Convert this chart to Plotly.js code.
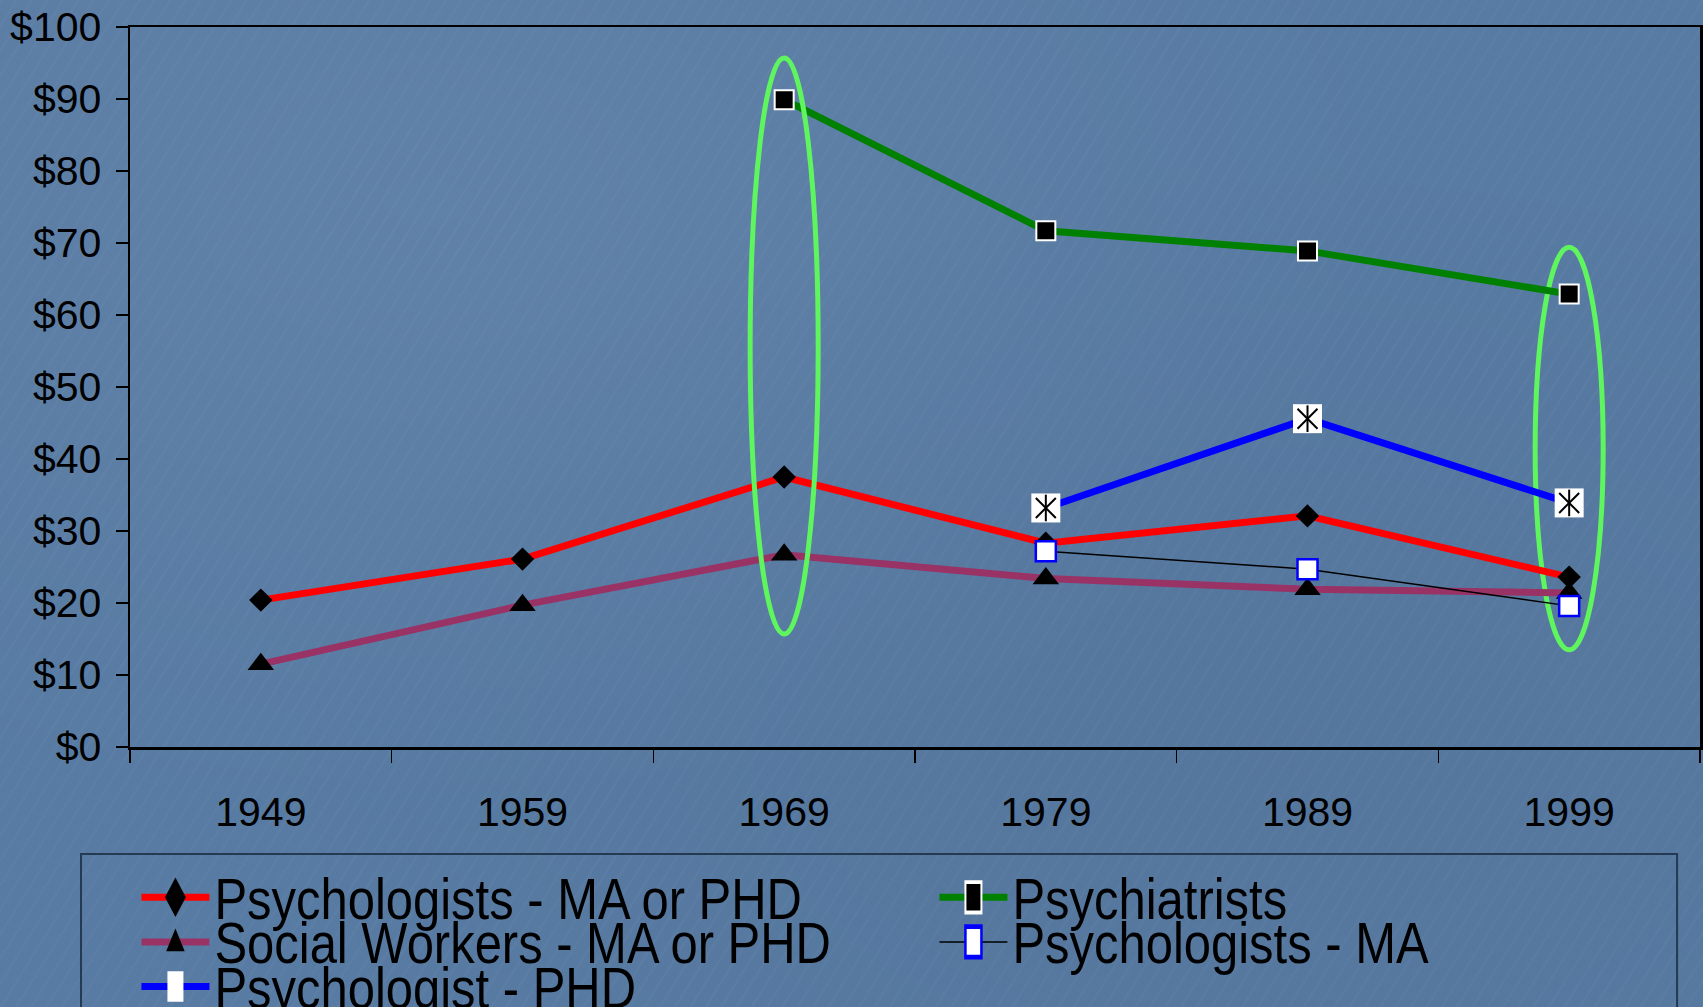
<!DOCTYPE html>
<html>
<head>
<meta charset="utf-8">
<script src="https://cdn.plot.ly/plotly-3.0.1.min.js"></script>
<style>
  html, body { margin: 0; padding: 0; }
  body {
    width: 1703px; height: 1007px; overflow: hidden;
    background:
      repeating-linear-gradient(122deg, rgba(255,255,255,0.025) 0px, rgba(255,255,255,0.025) 2px, rgba(255,255,255,0) 3px, rgba(255,255,255,0) 13px),
      radial-gradient(ellipse at 25% 20%, rgba(255,255,255,0.05), rgba(255,255,255,0) 55%),
      radial-gradient(ellipse at 75% 75%, rgba(0,0,0,0.04), rgba(0,0,0,0) 60%),
      #587ba3;
  }
  #chart { width: 1703px; height: 1007px; }
  .legend .legendtext {
    transform-box: fill-box;
    transform-origin: 0% 50%;
    transform: scale(1.53, 1.8);
  }
  .legend g.legendpoints {
    transform-box: fill-box;
    transform-origin: 50% 50%;
    transform: scale(1, 1.9);
  }
</style>
</head>
<body>
<div id="chart"></div>
<script>
// ---- data ----
const years = ['1949', '1959', '1969', '1979', '1989', '1999'];
const psychologistsMAorPHD = [20.4, 26.1, 37.5, 28.3, 32.1, 23.6];
const psychiatrists = [null, null, 89.9, 71.7, 68.9, 62.9];
const socialWorkersMAorPHD = [11.5, 19.7, 26.7, 23.4, 21.9, 21.4];
const psychologistsMA = [null, null, null, 27.2, 24.7, 19.6];
const psychologistPHD = [null, null, null, 33.2, 45.6, 33.9];
const seriesNames = ['Psychologists - MA or PHD', 'Psychiatrists', 'Social Workers - MA or PHD', 'Psychologists - MA', 'Psychologist - PHD'];
// highlighted years (category index) with vertical extent of the green ellipses
const highlightIndex = [2, 5];
const highlightLow = [15.7, 13.5];
const highlightHigh = [95.7, 69.4];

const FONT = 'Liberation Sans, Arial, Helvetica, sans-serif';

const traces = [
  {
    x: years, y: psychologistsMAorPHD, name: seriesNames[0], type: 'scatter', mode: 'lines+markers',
    line: {color: '#ff0000', width: 7},
    marker: {symbol: 'diamond', size: 18, color: '#000000'}
  },
  {
    x: years, y: psychiatrists, name: seriesNames[1], type: 'scatter', mode: 'lines+markers',
    line: {color: '#008000', width: 7},
    marker: {symbol: 'square', size: 19, color: '#000000', line: {color: '#ffffff', width: 2}}
  },
  {
    x: years, y: socialWorkersMAorPHD, name: seriesNames[2], type: 'scatter', mode: 'lines+markers',
    line: {color: '#993366', width: 7},
    marker: {symbol: 'triangle-up', size: 23, color: '#000000'}
  },
  {
    x: years, y: psychologistsMA, name: seriesNames[3], type: 'scatter', mode: 'lines+markers',
    line: {color: '#000000', width: 1.5},
    marker: {symbol: 'square', size: 20, color: '#ffffff', line: {color: '#0000ff', width: 2.5}}
  },
  {
    x: years, y: psychologistPHD, name: seriesNames[4], type: 'scatter', mode: 'lines+markers',
    legendgroup: 'phd',
    line: {color: '#0000ff', width: 7},
    marker: {symbol: 'square', size: 29, color: '#ffffff'}
  },
  {
    x: years, y: psychologistPHD, name: seriesNames[4], type: 'scatter', mode: 'markers',
    legendgroup: 'phd', showlegend: false, hoverinfo: 'skip',
    marker: {symbol: 'x-thin-open', size: 20, color: '#000000', line: {color: '#000000', width: 2}}
  },
  {
    x: years, y: psychologistPHD, name: seriesNames[4], type: 'scatter', mode: 'markers',
    legendgroup: 'phd', showlegend: false, hoverinfo: 'skip',
    marker: {symbol: 'line-ns-open', size: 19, color: '#000000', line: {color: '#000000', width: 2}}
  }
];

const shapes = highlightIndex.map((idx, i) => ({
  type: 'circle', xref: 'x', yref: 'y',
  x0: idx - 0.13, x1: idx + 0.13,
  y0: highlightLow[i], y1: highlightHigh[i],
  line: {color: '#5ef55e', width: 5},
  layer: i === 0 ? 'above' : 'below'
}));
// legend frame
shapes.push({
  type: 'rect', xref: 'paper', yref: 'paper',
  x0: -0.0312, x1: 0.9854, y0: -0.1486, y1: -0.40,
  line: {color: '#243a52', width: 2},
  fillcolor: 'rgba(0,0,0,0)', layer: 'below'
});

const layout = {
  width: 1703, height: 1007,
  margin: {l: 130, r: 3, t: 27, b: 260, pad: 0, autoexpand: false},
  paper_bgcolor: 'rgba(0,0,0,0)',
  plot_bgcolor: 'rgba(0,0,0,0)',
  font: {family: FONT, color: '#000000'},
  showlegend: true,
  xaxis: {
    type: 'category', range: [-0.5, 5.5],
    showline: true, linecolor: '#000000', linewidth: 2.5, mirror: true,
    ticks: 'outside', tickson: 'boundaries', ticklen: 13, tickwidth: 1.5, tickcolor: '#000000',
    showgrid: false, zeroline: false,
    tickfont: {family: FONT, size: 41, color: '#000000'},
    ticklabelstandoff: 27
  },
  yaxis: {
    range: [0, 100], dtick: 10, tickprefix: '$',
    showline: true, linecolor: '#000000', linewidth: 2.5, mirror: true,
    ticks: 'outside', ticklen: 12, tickwidth: 1.5, tickcolor: '#000000',
    showgrid: false, zeroline: false,
    tickfont: {family: FONT, size: 41, color: '#000000'},
    ticklabelstandoff: 6
  },
  legend: {
    orientation: 'h',
    x: -0.001, xanchor: 'left',
    y: -0.1708, yanchor: 'top',
    entrywidth: 707, entrywidthmode: 'pixels',
    itemwidth: 68, indentation: 8,
    bgcolor: 'rgba(0,0,0,0)', borderwidth: 0,
    font: {family: FONT, size: 32, color: '#000000'},
    traceorder: 'normal'
  },
  shapes: shapes
};

Plotly.newPlot('chart', traces, layout, {displayModeBar: false, staticPlot: true});
</script>
</body>
</html>
